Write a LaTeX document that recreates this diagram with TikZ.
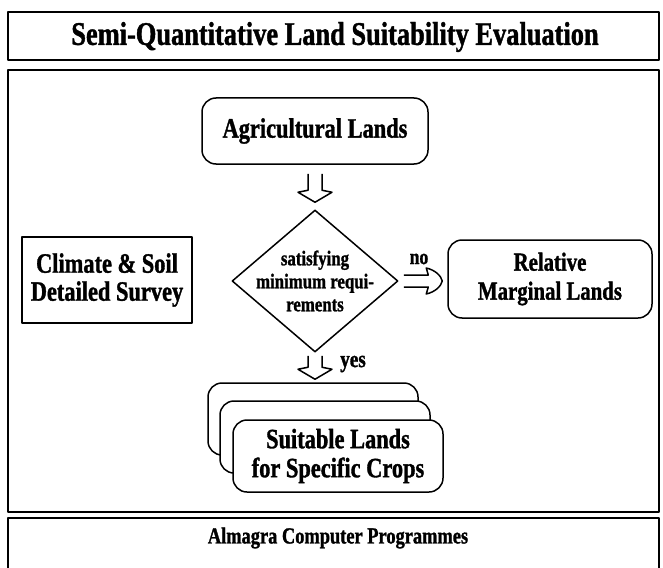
\documentclass[tikz,border=0pt]{standalone}
\usepackage{fontspec}
\setmainfont{Liberation Serif}[FakeStretch=0.8, BoldFeatures={FakeBold=1.2}]
\usetikzlibrary{calc, shapes.geometric, positioning}

\begin{document}
\begin{tikzpicture}
[
    x = 1pt, y = -1pt, line join = round,
    every node/.style = {align=center, inner sep=0pt, font=\bfseries},
    FrameStyle/.style = {line width = 2pt},
    BoxStyle/.style = {draw, line width = 1.5pt, fill = white},
    RoundStyle/.style = {BoxStyle, rounded corners = 14pt},
    % hollow double arrows, gap at start / gap at tip
    DownArrow/.style 2 args = {line width = 1.5pt, to path = {
        let \p1 = (\tikztostart), \p2 = (\tikztotarget) in
        (\x1-7pt,\y1-#1) -- (\x1-7pt,\y2+#2+12pt) -- (\x1-17pt,\y2+#2+10pt)
        -- (\x1,\y2+#2) -- (\x1+17pt,\y2+#2+10pt) -- (\x1+7pt,\y2+#2+12pt)
        -- (\x1+7pt,\y1-#1)}},
    RightArrow/.style = {line width = 1.5pt, to path = {
        let \p1 = (\tikztostart), \p2 = (\tikztotarget) in
        (\x1+5pt,\y1+6pt) -- (\x2-19pt,\y1+6pt) -- (\x2-21pt,\y1+13pt)
        .. controls (\x2-12pt,\y1+11pt) and (\x2-6pt,\y1+5pt) .. (\x2-5pt,\y1)
        .. controls (\x2-6pt,\y1-5pt) and (\x2-12pt,\y1-11pt) .. (\x2-21pt,\y1-13pt)
        -- (\x2-19pt,\y1-6pt) -- (\x1+5pt,\y1-6pt)}}
  ]

  \tikzset{DecisionStyle/.style = {BoxStyle, diamond, aspect = 1.17,
                                   inner sep = -9pt,
                                   minimum width = 166pt,
                                   minimum height = 142pt}}

  \useasboundingbox (0,0) rectangle (663,567);
  \clip (0,0) rectangle (663,567);

  % frames
  \draw[FrameStyle] (8,12) rectangle (659,60);
  \draw[FrameStyle] (8,70) rectangle (659,512);
  \draw[FrameStyle] (8,518) rectangle (659,580);

  \node[font=\bfseries\fontsize{33}{35}\selectfont] (title) at (335,37)
       {Semi-Quantitative Land Suitability Evaluation};
  \node[font=\bfseries\fontsize{23}{25}\selectfont] (almagra) at (338,538)
       {Almagra Computer Programmes};

  % flow chart
  \node[RoundStyle, minimum width = 226pt, minimum height = 66pt,
        font=\bfseries\fontsize{28}{30}\selectfont] (agri) at (315,131)
       {Agricultural Lands};
  \node[DecisionStyle, font=\bfseries\fontsize{21}{23}\selectfont] (dec) at (315,281)
       {satisfying\\minimum requi-\\rements};
  \node[RoundStyle, minimum width = 204pt, minimum height = 78pt,
        font=\bfseries\fontsize{26}{29}\selectfont] (marg) at (550,279)
       {Relative\\Marginal Lands};
  \node[BoxStyle, minimum width = 170pt, minimum height = 86pt,
        font=\bfseries\fontsize{28}{28}\selectfont] (survey) at (107,280)
       {Climate \& Soil\\Detailed Survey};

  \begin{scope}[every node/.append style = {RoundStyle, minimum width = 210pt,
                                            minimum height = 72pt}]
  \node (back) at (313,419) {};
  \node (mid) at (325,437) {};
  \node[font=\bfseries\fontsize{28}{29}\selectfont] (crops) at (338,456)
       {Suitable Lands\\for Specific Crops};
  \end{scope}

  \draw[DownArrow={9pt}{7pt}] (agri.south) to (dec.north);
  \draw[RightArrow] (dec.east) to (marg.west);
  \draw[DownArrow={3pt}{3pt}] (dec.south) to (back.north);

  \node[font=\bfseries\fontsize{22}{24}\selectfont] (no) at (419,259) {no};
  \node[font=\bfseries\fontsize{24}{26}\selectfont] (yes) at (353,364) {yes};

\end{tikzpicture}
\end{document}
